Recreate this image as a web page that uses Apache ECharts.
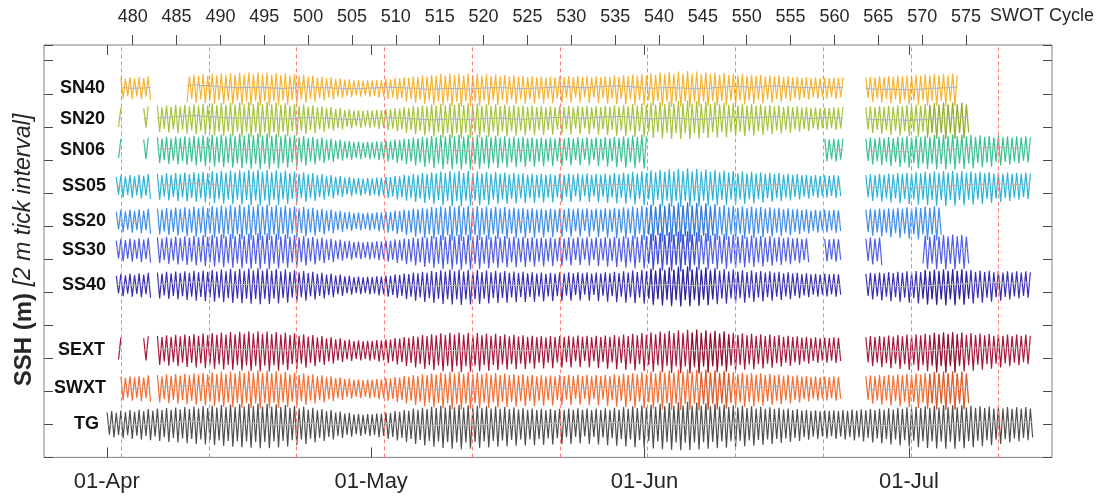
<!DOCTYPE html>
<html><head><meta charset="utf-8">
<script src="https://cdn.jsdelivr.net/npm/echarts@6/dist/echarts.min.js"></script>
<style>html,body{margin:0;padding:0;background:#fff}#c{width:1100px;height:496px}</style>
</head><body><div id="c"></div>
<script>
// ---------------- data ----------------
const stations = ['SN40','SN20','SN06','SS05','SS20','SS30','SS40','SEXT','SWXT','TG'];
// vertical offset of each record (m)
const stationOffset = [20.35, 18.5, 16.6, 14.4, 12.3, 10.55, 8.43, 4.5, 2.18, 0];
// tidal amplitude of each record relative to the tide gauge
const stationScale = [0.75, 0.8, 0.8, 0.8, 0.8, 0.8, 0.8, 0.9, 0.85, 1.0];
// data availability windows (days since 01-Apr)
const stationSegments = [
  [[1.4,5.0],[9.0,83.6],[86.0,96.7]],
  [[1.3,1.8],[4.1,4.8],[5.5,83.6],[86.0,98.0]],
  [[1.3,1.8],[4.1,4.8],[5.5,61.4],[81.4,83.6],[86.0,105.0]],
  [[1.05,5.0],[5.5,83.4],[86.0,105.0]],
  [[1.05,5.0],[5.5,83.4],[86.0,94.8]],
  [[1.05,5.0],[5.5,79.8],[81.4,83.4],[86.0,88.0],[92.5,98.0]],
  [[1.05,5.0],[5.5,83.4],[86.0,105.0]],
  [[1.3,1.8],[4.1,4.9],[5.5,83.4],[86.0,105.0]],
  [[1.4,5.0],[5.5,83.4],[86.0,98.0]],
  [[0.0,105.3]]
];
// windows where a second, overlapping record is plotted (days since 01-Apr)
const overlapSegments = [
  [], [[93.0,98.0]], [], [], [[61.0,69.0]], [[61.0,67.0]], [[61.0,69.0],[92.5,98.0]],
  [[66.0,71.0],[93.5,97.0]], [[67.0,71.0],[93.0,98.0]], []
];
// tide gauge extremes (m): successive high waters and low waters
const tideStartDay = 0.05;
const tideStepDays = 0.2592;
const tgHigh = [
0.72,0.80,0.70,0.83,0.74,0.86,0.76,0.88,0.79,0.92,
0.82,0.95,0.86,0.99,0.88,1.02,0.91,1.04,0.93,1.07,
0.96,1.10,0.99,1.14,1.02,1.17,1.04,1.20,1.06,1.22,
1.08,1.25,1.10,1.26,1.09,1.24,1.07,1.21,1.04,1.17,
1.00,1.12,0.95,1.06,0.90,1.00,0.85,0.93,0.79,0.86,
0.72,0.78,0.65,0.70,0.60,0.64,0.58,0.62,0.60,0.66,
0.64,0.72,0.70,0.80,0.76,0.87,0.82,0.94,0.88,1.00,
0.93,1.06,0.98,1.12,1.01,1.16,1.03,1.17,1.02,1.15,
1.00,1.13,0.98,1.10,0.96,1.08,0.94,1.05,0.92,1.02,
0.90,0.99,0.88,0.96,0.86,0.94,0.85,0.93,0.86,0.94,
0.87,0.96,0.88,0.97,0.88,0.96,0.86,0.95,0.87,0.97,
0.88,1.00,0.90,1.04,0.94,1.09,0.98,1.14,1.02,1.19,
1.06,1.24,1.10,1.29,1.13,1.33,1.15,1.36,1.14,1.32,
1.12,1.28,1.10,1.24,1.07,1.20,1.04,1.16,1.01,1.12,
0.98,1.09,0.96,1.06,0.94,1.03,0.92,1.00,0.89,0.96,
0.86,0.92,0.83,0.88,0.80,0.85,0.79,0.84,0.80,0.85,
0.81,0.87,0.82,0.89,0.84,0.91,0.85,0.93,0.86,0.94,
0.88,0.97,0.90,1.00,0.92,1.03,0.95,1.06,0.98,1.09,
1.00,1.12,1.02,1.15,1.03,1.16,1.03,1.15,1.02,1.13,
1.00,1.10,0.98,1.07,0.96,1.05,0.95,1.04,0.94,1.03,
0.95,1.04,0.96];
const tgLow = [
-0.62,-0.80,-0.64,-0.84,-0.66,-0.88,-0.68,-0.92,-0.70,-0.96,
-0.74,-1.01,-0.78,-1.06,-0.82,-1.10,-0.85,-1.14,-0.88,-1.18,
-0.91,-1.22,-0.94,-1.27,-0.97,-1.31,-1.00,-1.35,-1.02,-1.38,
-1.04,-1.42,-1.06,-1.45,-1.06,-1.44,-1.04,-1.40,-1.00,-1.34,
-0.96,-1.27,-0.92,-1.19,-0.87,-1.10,-0.82,-1.01,-0.77,-0.92,
-0.70,-0.82,-0.64,-0.74,-0.60,-0.70,-0.60,-0.72,-0.64,-0.78,
-0.70,-0.88,-0.76,-0.98,-0.82,-1.08,-0.88,-1.18,-0.94,-1.28,
-1.00,-1.36,-1.04,-1.43,-1.08,-1.48,-1.10,-1.50,-1.09,-1.47,
-1.06,-1.43,-1.03,-1.40,-1.00,-1.36,-0.97,-1.33,-0.95,-1.30,
-0.92,-1.28,-0.90,-1.26,-0.88,-1.24,-0.86,-1.22,-0.84,-1.20,
-0.80,-1.18,-0.76,-1.16,-0.74,-1.18,-0.76,-1.22,-0.80,-1.26,
-0.84,-1.30,-0.88,-1.34,-0.92,-1.38,-0.96,-1.42,-1.00,-1.46,
-1.04,-1.50,-1.08,-1.54,-1.10,-1.56,-1.11,-1.55,-1.10,-1.52,
-1.08,-1.48,-1.06,-1.45,-1.04,-1.41,-1.02,-1.37,-1.00,-1.33,
-0.98,-1.29,-0.95,-1.24,-0.92,-1.19,-0.89,-1.13,-0.86,-1.07,
-0.82,-1.00,-0.78,-0.93,-0.74,-0.88,-0.72,-0.86,-0.72,-0.88,
-0.74,-0.92,-0.77,-0.98,-0.80,-1.04,-0.83,-1.10,-0.86,-1.16,
-0.89,-1.22,-0.92,-1.28,-0.96,-1.34,-0.99,-1.39,-1.02,-1.43,
-1.04,-1.46,-1.05,-1.48,-1.05,-1.47,-1.04,-1.44,-1.02,-1.39,
-0.99,-1.33,-0.96,-1.26,-0.93,-1.18,-0.90,-1.10,-0.86,-1.02,
-0.83,-0.96,-0.80];
// daily mean (filtered) sea level anomaly (m), day 0 = 01-Apr
const meanLevel = [
0.00,0.02,0.01,-0.02,0.00,0.03,0.05,0.08,0.12,0.15,
0.18,0.14,0.10,0.06,0.04,0.02,0.03,0.05,0.02,-0.01,
-0.03,0.00,0.04,0.06,0.03,0.01,-0.02,-0.04,-0.05,-0.03,
0.00,0.02,0.05,0.03,0.00,-0.02,-0.06,-0.08,-0.05,-0.03,
-0.04,-0.06,-0.03,0.00,0.02,0.01,-0.02,-0.04,-0.03,0.00,
0.03,0.06,0.08,0.05,0.02,0.04,0.07,0.10,0.12,0.09,
0.05,0.00,-0.02,0.01,0.03,0.00,-0.03,-0.05,-0.02,0.02,
0.06,0.09,0.07,0.04,0.06,0.10,0.12,0.08,0.05,0.03,
0.01,0.04,0.06,0.03,0.00,-0.02,-0.04,-0.06,-0.08,-0.07,
-0.09,-0.11,-0.08,-0.05,-0.02,0.01,0.04,0.07,0.10,0.12,
0.14,0.16,0.13,0.10,0.12,0.15];
// axes
const dateTickDays = [0, 30, 61, 91];
const dateTickLabels = ['01-Apr', '01-May', '01-Jun', '01-Jul'];
const cycleTicks = [480,485,490,495,500,505,510,515,520,525,530,535,540,545,550,555,560,565,570,575];
const redLineCycles = [478.7,488.7,498.7,508.7,518.7,528.7,538.7,548.7,558.7,568.7,578.7];

// ---------------- styles ----------------
const stationColor = ['#f8b430','#a5c53a','#38c392','#28b5d9','#3b8ef0','#4f5ceb','#3b2eb6','#a8163a','#f86c2e','#4f4f4f'];
const overlapColor = ['#d08a10','#7e9a1c','#1f9a6c','#1686ad','#1f5fd0','#2b35c8','#22168a','#7c0a24','#c8441a','#333333'];
const labelRightX = [105,105,105,106,106,106,106,105,106,99];
const FONT = '"Liberation Sans", Arial, Helvetica, sans-serif';
const tickColor = '#4a4a4a';

// ---------------- build series ----------------
function extremes() {
  const out = [];
  for (let i = 0; i < tgHigh.length; i++) {
    out.push([tideStartDay + 2 * i * tideStepDays, tgHigh[i]]);
    if (i < tgLow.length) out.push([tideStartDay + (2 * i + 1) * tideStepDays, tgLow[i]]);
  }
  return out;
}
const tide = extremes();
function buildTrace(segs, s, scale, withMean) {
  const data = [], grey = [];
  segs.forEach((seg, k) => {
    if (k > 0) { data.push([seg[0] - 0.01, '-']); grey.push([seg[0] - 0.01, '-']); }
    tide.forEach(([t, v]) => {
      if (t >= seg[0] && t <= seg[1]) {
        data.push([t, stationOffset[s] + scale * v]);
        if (withMean) {
          const m = meanLevel[Math.min(meanLevel.length - 1, Math.round(t))];
          grey.push([t, stationOffset[s] + m]);
        }
      }
    });
  });
  return { data, grey };
}
const series = [];
const greySeries = [];
stations.forEach((name, s) => {
  const tr = buildTrace(stationSegments[s], s, stationScale[s], true);
  series.push({
    name, type: 'line', xAxisIndex: 0, yAxisIndex: 0, data: tr.data,
    showSymbol: false, symbol: 'none', connectNulls: false,
    lineStyle: { color: stationColor[s], width: 1.2 }, z: 2, silent: true
  });
  if (overlapSegments[s].length) {
    const ov = buildTrace(overlapSegments[s], s, stationScale[s] * 1.05, false);
    series.push({
      name: name + ' overlap', type: 'line', xAxisIndex: 0, yAxisIndex: 0, data: ov.data,
      showSymbol: false, symbol: 'none', connectNulls: false,
      lineStyle: { color: overlapColor[s], width: 1, opacity: 0.5 }, z: 2, silent: true
    });
  }
  greySeries.push({
    name: name + ' mean', type: 'line', xAxisIndex: 0, yAxisIndex: 0, data: tr.grey,
    showSymbol: false, symbol: 'none', connectNulls: false,
    lineStyle: { color: '#b4b4b4', width: 1.1 }, z: 3, silent: true
  });
});
series.push(...greySeries);
series.push({
  type: 'line', xAxisIndex: 1, yAxisIndex: 0, data: [], silent: true, z: 5,
  markLine: {
    silent: true, symbol: ['none', 'none'], label: { show: false },
    lineStyle: { color: '#ff8080', type: [4, 3], width: 1 },
    data: redLineCycles.map(c => ({ xAxis: c }))
  }
});

const chart = echarts.init(document.getElementById('c'), null, { renderer: 'canvas' });
const noLine = { show: false, onZero: false };
chart.setOption({
  animation: false,
  backgroundColor: '#fff',
  grid: { left: 44, right: 48, top: 45, bottom: 38.6, show: true, borderColor: '#7f7f7f', borderWidth: 1, backgroundColor: 'transparent' },
  xAxis: [
    { type: 'value', position: 'bottom', min: -7.11, max: 107.22,
      axisLine: noLine, splitLine: { show: false }, axisTick: { show: false },
      axisLabel: { show: true, customValues: dateTickDays, margin: 14, fontSize: 22, color: '#262626', fontFamily: FONT,
        formatter: v => dateTickLabels[dateTickDays.indexOf(Math.round(v))] || '' } },
    { type: 'value', position: 'top', min: 469.89, max: 584.8,
      axisLine: noLine, splitLine: { show: false },
      axisTick: { show: true, inside: false, length: 10, customValues: cycleTicks, lineStyle: { color: tickColor } },
      axisLabel: { show: true, customValues: cycleTicks, margin: 19, fontSize: 18, color: '#262626', fontFamily: FONT } }
  ],
  yAxis: [
    { type: 'value', position: 'left', min: -2, max: 22.95, interval: 2,
      axisLine: noLine, splitLine: { show: false }, axisLabel: { show: false },
      axisTick: { show: true, inside: true, length: 9, lineStyle: { color: tickColor } } },
    { type: 'value', position: 'right', min: -2, max: 22.95, interval: 2,
      axisLine: noLine, splitLine: { show: false }, axisLabel: { show: false },
      axisTick: { show: true, inside: true, length: 9, lineStyle: { color: tickColor } } }
  ],
  series
});

// inward date ticks on the top and bottom frame, placed through the day axis scale
const rect = chart.getModel().getComponent('grid').coordinateSystem.getRect();
const graphics = [];
dateTickDays.forEach(d => {
  const px = Math.round(chart.convertToPixel({ xAxisIndex: 0 }, d)) + 0.5;
  graphics.push({ type: 'line', z: 6, silent: true,
    shape: { x1: px, y1: rect.y + rect.height, x2: px, y2: rect.y + rect.height - 10 },
    style: { stroke: tickColor, lineWidth: 1 } });
  graphics.push({ type: 'line', z: 6, silent: true,
    shape: { x1: px, y1: rect.y, x2: px, y2: rect.y + 10 },
    style: { stroke: tickColor, lineWidth: 1 } });
});
stations.forEach((name, s) => graphics.push({
  type: 'text', z: 10,
  x: labelRightX[s], y: chart.convertToPixel({ yAxisIndex: 0 }, stationOffset[s]),
  style: { text: name, align: 'right', verticalAlign: 'middle', fill: '#111', font: 'bold 18px ' + FONT }
}));
graphics.push({
  type: 'text', z: 10, x: 990, y: 16,
  style: { text: 'SWOT Cycle', align: 'left', verticalAlign: 'middle', fill: '#262626', font: '18px ' + FONT }
});
graphics.push({
  type: 'text', z: 10, x: 24, y: 250, rotation: Math.PI / 2,
  style: {
    text: '{b|SSH (m)}  {i|[2 m tick interval]}', align: 'center', verticalAlign: 'middle', fill: '#262626',
    rich: {
      b: { font: 'bold 24px ' + FONT, fill: '#262626' },
      i: { font: 'italic 23px ' + FONT, fill: '#262626' }
    }
  }
});
chart.setOption({ graphic: graphics });
</script>
</body></html>
